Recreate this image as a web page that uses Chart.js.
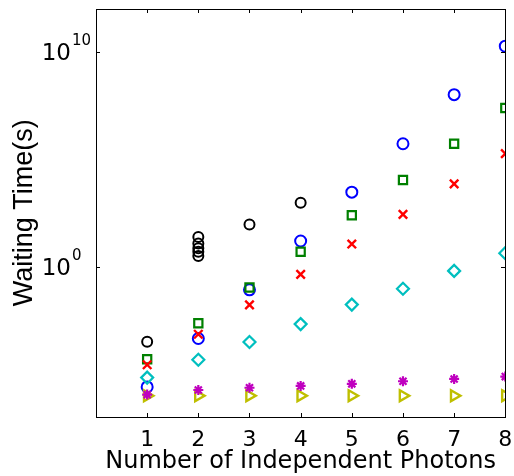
<!DOCTYPE html>
<html><head><meta charset="utf-8">
<script src="https://cdn.jsdelivr.net/npm/chart.js@4/dist/chart.umd.min.js"></script>
<style>html,body{margin:0;padding:0;background:#fff}#wrap{width:514px;height:476px;position:relative}</style>
</head><body><div id="wrap"><canvas id="c"></canvas></div>
<script>
const xTickValues = [1, 2, 3, 4, 5, 6, 7, 8];
const yTickValues = [1, 1e10];
const yTickBase = ['10', '10'];
const yTickExponents = ['0', '10'];
const xTitle = 'Number of Independent Photons';
const yTitle = 'Waiting Time(s)';

const blackX = [1, 2, 2, 2, 2, 2, 3, 4];
const blackY = [3.2e-4, 24, 12, 7.1, 4.9, 3.1, 91, 930];
const blueX = [1, 2, 3, 4, 5, 6, 7, 8];
const blueY = [2.5e-6, 4.5e-4, 0.083, 15.5, 2900, 5.2e5, 1.0e8, 1.8e10];
const greenX = [1, 2, 3, 4, 5, 6, 7, 8];
const greenY = [4.9e-5, 2.3e-3, 0.107, 4.9, 245, 1.07e4, 5.2e5, 2.4e7];
const redX = [1, 2, 3, 4, 5, 6, 7, 8];
const redY = [2.7e-5, 7.1e-4, 0.0166, 0.43, 11.2, 270, 7100, 1.8e5];
const cyanX = [1, 2, 3, 4, 5, 6, 7, 8];
const cyanY = [6.8e-6, 4.6e-5, 3.1e-4, 2.1e-3, 0.017, 0.093, 0.63, 4.2];
const magentaX = [1, 2, 3, 4, 5, 6, 7, 8];
const magentaY = [1.1e-6, 1.8e-6, 2.3e-6, 2.8e-6, 3.5e-6, 4.6e-6, 5.9e-6, 7.6e-6];
const yellowX = [1, 2, 3, 4, 5, 6, 7, 8];
const yellowY = [9.8e-7, 9.8e-7, 9.8e-7, 9.8e-7, 9.8e-7, 9.8e-7, 9.8e-7, 9.8e-7];

function pts(xs, ys) { return xs.map((x, i) => ({ x: x, y: ys[i] })); }

function ds(label, xs, ys, color, style, radius, width, order, rotation) {
  return {
    label: label, data: pts(xs, ys), showLine: false,
    pointStyle: style, pointRadius: radius, pointHoverRadius: radius,
    pointBorderColor: color, pointBackgroundColor: 'rgba(0,0,0,0)',
    pointBorderWidth: width, pointHoverBorderWidth: width,
    pointRotation: rotation || 0, order: order
  };
}

const frame = {
  id: 'frame',
  afterDraw(chart) {
    const ctx = chart.ctx, a = chart.chartArea;
    const xs = chart.scales.x, ys = chart.scales.y;
    ctx.save();
    ctx.fillStyle = '#000';
    const L = Math.round(a.left), R = Math.round(a.right), T = Math.round(a.top), B = Math.round(a.bottom);
    ctx.fillRect(L, T, R - L, 1);
    ctx.fillRect(L, B, R - L + 1, 1);
    ctx.fillRect(L, T, 1, B - T);
    ctx.fillRect(R, T, 1, B - T);
    const tl = 4;
    xTickValues.forEach(v => {
      const px = Math.round(xs.getPixelForValue(v));
      ctx.fillRect(px, B - tl, 1, tl);
      ctx.fillRect(px, T, 1, tl);
    });
    yTickValues.forEach(v => {
      const py = Math.round(ys.getPixelForValue(v));
      ctx.fillRect(L, py, tl, 1);
      ctx.fillRect(R - tl, py, tl, 1);
    });
    ctx.font = '15px "DejaVu Sans"';
    ctx.textAlign = 'left';
    ctx.textBaseline = 'alphabetic';
    yTickValues.forEach((v, i) => {
      const py = ys.getPixelForValue(v);
      ctx.fillText(yTickExponents[i], L - 24, py - 7);
    });
    ctx.restore();
  }
};

new Chart(document.getElementById('c'), {
  type: 'scatter',
  data: {
    datasets: [
      ds('black', blackX, blackY, '#000000', 'circle', 5, 2, 7),
      ds('blue', blueX, blueY, '#0000ff', 'circle', 5.5, 2, 6),
      ds('green', greenX, greenY, '#008000', 'rect', 5.8, 2.2, 5),
      ds('red', redX, redY, '#ff0000', 'crossRot', 6, 2.4, 4),
      ds('cyan', cyanX, cyanY, '#00bfbf', 'rectRot', 6, 2.2, 3),
      ds('yellow', yellowX, yellowY, '#bfbf00', 'triangle', 6.3, 2.4, 2, 90),
      ds('magenta', magentaX, magentaY, '#bf00bf', 'star', 5, 2.2, 1)
    ]
  },
  options: {
    responsive: true, maintainAspectRatio: false, animation: false,
    devicePixelRatio: 1,
    layout: { padding: { top: 7, right: 7, left: 0, bottom: 0 } },
    plugins: { legend: { display: false }, tooltip: { enabled: false } },
    scales: {
      x: {
        type: 'linear', min: 0, max: 8,
        grid: { display: false, drawTicks: false }, border: { display: false },
        afterBuildTicks: s => { s.ticks = xTickValues.map(v => ({ value: v })); },
        afterFit: s => { s.height = 59; s.paddingLeft = 0; s.paddingRight = 0; },
        ticks: { color: '#000', font: { family: 'DejaVu Sans', size: 22 }, padding: 10, maxRotation: 0, autoSkip: false },
        title: { display: true, text: xTitle, color: '#000', font: { family: 'DejaVu Sans', size: 24 }, padding: { top: 0, bottom: 0 } }
      },
      y: {
        type: 'logarithmic', min: 1e-7, max: 1e12,
        grid: { display: false, drawTicks: false }, border: { display: false },
        afterBuildTicks: s => { s.ticks = yTickValues.map(v => ({ value: v })); },
        afterFit: s => { s.width = 96; s.paddingTop = 0; s.paddingBottom = 0; },
        ticks: {
          color: '#000', font: { family: 'DejaVu Sans', size: 23 }, padding: 25, labelOffset: 2,
          callback: (v) => { const i = yTickValues.indexOf(v); return i >= 0 ? yTickBase[i] : ''; }
        },
        title: { display: true, text: yTitle, color: '#000', font: { family: 'Liberation Sans', size: 27 }, padding: { top: 8, bottom: 0 } }
      }
    }
  },
  plugins: [frame]
});
</script></body></html>
